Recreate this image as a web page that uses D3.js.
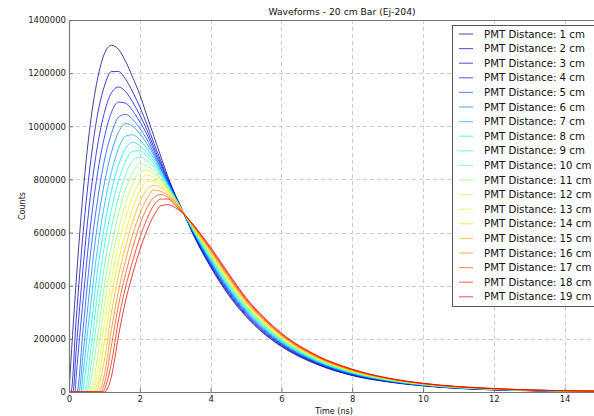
<!DOCTYPE html>
<html><head><meta charset="utf-8">
<script src="https://cdn.jsdelivr.net/npm/d3@7"></script>
<style>body{margin:0;background:#fff}svg{display:block}</style>
</head><body><svg id="c" width="594" height="416"></svg>
<script>
const chartTitle = "Waveforms - 20 cm Bar (Ej-204)";
const xLabel = "Time (ns)";
const yLabel = "Counts";
const seriesNames = Array.from({length:19},(_,i)=>"PMT Distance: "+(i+1)+" cm");
// time (ns) at which each waveform leaves zero
const onsets = [0,0.056,0.111,0.167,0.222,0.278,0.333,0.389,0.444,0.5,0.556,0.611,0.667,0.722,0.778,0.833,0.889,0.944,1.0];
// sample times (ns)
const times = [0.2,0.4,0.6,0.8,1.0,1.2,1.4,1.6,1.8,2.0,2.2,2.4,2.6,2.8,3.0,3.2,3.5,4,4.5,5,5.5,6,7,8,9,10,12,15];
// counts in thousands
const d1  = [411,753,1007,1174,1273,1305,1289,1244,1184,1119,1040,961,884,809,743,686,595,470,366,284,220,171,104,62,38,23,8,2];
const d2  = [267,601,854,1040,1151,1206,1206,1177,1129,1073,1008,936,868,801,740,686,597,474,371,288,223,174,106,63,39,24,8,2];
const d3v = [153,470,732,923,1052,1126,1148,1130,1091,1042,987,921,858,795,737,685,599,478,375,292,227,177,108,65,40,24,9,2];
const d4  = [54,349,617,818,959,1053,1091,1087,1058,1017,970,909,850,792,736,684,601,483,380,296,230,180,110,66,41,25,9,2];
const d5  = [0,239,512,716,872,973,1034,1045,1026,992,951,898,842,788,734,685,603,487,384,300,234,182,112,67,41,25,9,2];
const d6  = [0,147,407,626,786,903,978,1010,1000,972,935,889,837,786,734,684,605,491,389,304,237,185,113,69,42,26,9,2];
const d7  = [0,75,314,535,703,829,917,963,968,949,917,878,830,781,732,684,607,495,393,308,241,188,115,70,43,26,10,2];
const d8  = [0,11,218,451,623,758,855,917,940,927,901,868,823,778,731,684,609,499,398,312,244,191,117,71,44,27,10,2];
const d9  = [0,0,140,364,550,688,795,869,907,908,887,858,818,775,730,684,611,503,402,316,248,194,119,73,45,27,10,2];
const d10 = [0,0,78,283,473,620,733,818,871,884,870,846,811,771,729,684,614,508,407,320,251,197,121,74,46,28,11,3];
const d11 = [0,0,29,201,402,550,671,764,826,859,852,833,803,766,726,683,616,512,412,323,254,199,123,75,46,29,11,3];
const d12 = [0,0,0,129,328,489,611,710,785,827,835,820,797,762,725,683,618,516,416,327,258,202,125,77,47,29,11,3];
const d13 = [0,0,0,71,257,424,552,657,737,793,816,808,788,758,723,683,620,520,421,331,261,205,127,78,48,30,11,3];
const d14 = [0,0,0,34,189,363,495,603,691,755,792,794,779,753,721,682,622,524,425,335,265,208,129,79,49,30,12,3];
const d15 = [0,0,0,8,120,299,440,548,642,715,763,778,768,747,717,682,624,528,430,339,268,211,130,81,50,31,12,3];
const d16 = [0,0,0,0,65,236,382,496,593,670,727,760,755,739,713,680,626,533,434,343,272,214,132,82,51,31,12,3];
const d17 = [0,0,0,0,31,175,329,445,544,629,693,733,743,732,709,679,628,537,439,347,275,216,134,83,51,32,12,3];
const d18 = [0,0,0,0,10,111,272,396,493,581,651,703,726,726,702,677,630,541,443,351,279,219,136,85,52,32,13,3];
const d19 = [0,0,0,0,0,59,213,344,445,534,608,665,701,705,694,674,632,545,448,355,282,222,138,86,53,33,13,3];
const seriesValues = [d1,d2,d3v,d4,d5,d6,d7,d8,d9,d10,d11,d12,d13,d14,d15,d16,d17,d18,d19];
const xTicks = [0,2,4,6,8,10,12,14];
const xTickLabels = ["0","2","4","6","8","10","12","14"];
const yTicks = [0,200,400,600,800,1000,1200,1400];
const yTickLabels = ["0","200000","400000","600000","800000","1000000","1200000","1400000"];

const svg = d3.select("#c");
const L=69, R=600, T=20, B=392;
const x = d3.scaleLinear().domain([0,15]).range([L,R]);
const y = d3.scaleLinear().domain([0,1400]).range([B,T]);
const font = "DejaVu Sans, sans-serif";

function jet(v){
  const c=t=>Math.max(0,Math.min(1,t));
  return d3.rgb(255*c(1.5-Math.abs(4*v-3)),255*c(1.5-Math.abs(4*v-2)),255*c(1.5-Math.abs(4*v-1)));
}
const colors = seriesNames.map((_,i)=>jet(i/20));

svg.append("defs").append("clipPath").attr("id","pc").append("rect")
  .attr("x",L).attr("y",T).attr("width",R-L).attr("height",B-T);

// grid
const grid = svg.append("g").attr("stroke","#cccccc").attr("stroke-width",1).attr("stroke-dasharray","4,3");
grid.selectAll("line.vx").data(xTicks.filter(v=>v>0)).join("line")
  .attr("x1",d=>Math.round(x(d))+0.5).attr("x2",d=>Math.round(x(d))+0.5).attr("y1",T).attr("y2",B);
grid.selectAll("line.hy").data(yTicks.filter(v=>v>0&&v<1400)).join("line")
  .attr("y1",d=>Math.round(y(d))+0.5).attr("y2",d=>Math.round(y(d))+0.5).attr("x1",L).attr("x2",R);

// curves
const line = d3.line().x(d=>x(d[0])).y(d=>y(d[1])).curve(d3.curveMonotoneX);
const cg = svg.append("g").attr("clip-path","url(#pc)");
seriesValues.forEach((vals,i)=>{
  const pts=[];
  if (onsets[i]>0) pts.push([0,0]);
  pts.push([onsets[i],0]);
  times.forEach((t,j)=>{ if(t>onsets[i]) pts.push([t,vals[j]]); });
  cg.append("path").attr("d",line(pts)).attr("fill","none")
    .attr("stroke",colors[i]).attr("stroke-opacity",0.75).attr("stroke-width",1);
});

// axes
const xa = svg.append("g").attr("transform",`translate(0,${B})`)
  .call(d3.axisBottom(x).tickValues(xTicks).tickFormat((d,i)=>xTickLabels[i]).tickSizeInner(-4).tickSizeOuter(0).tickPadding(4));
const ya = svg.append("g").attr("transform",`translate(${L},0)`)
  .call(d3.axisLeft(y).tickValues(yTicks).tickFormat((d,i)=>yTickLabels[i]).tickSizeInner(-4).tickSizeOuter(0).tickPadding(3));
[xa,ya].forEach(a=>{
  a.select(".domain").remove();
  a.selectAll("line").attr("stroke","#777");
  a.selectAll("text").attr("font-family",font).attr("font-size","8.5px").attr("fill","#222");
});
// frame
svg.append("path").attr("d",`M${L+0.5},${T+0.5}H${R}M${L+0.5},${T+0.5}V${B+0.5}H${R}`)
  .attr("fill","none").attr("stroke","#777").attr("stroke-width",1.2);

// labels
svg.append("text").attr("x",342).attr("y",15).attr("text-anchor","middle")
  .attr("font-family",font).attr("font-size","9.2px").attr("fill","#111").text(chartTitle);
svg.append("text").attr("x",334).attr("y",414).attr("text-anchor","middle")
  .attr("font-family",font).attr("font-size","8px").attr("fill","#111").text(xLabel);
svg.append("text").attr("transform",`translate(25,206) rotate(-90)`).attr("text-anchor","middle")
  .attr("font-family",font).attr("font-size","8px").attr("fill","#111").text(yLabel);

// legend
const lg = svg.append("g");
lg.append("rect").attr("x",452.5).attr("y",25.5).attr("width",200).attr("height",281)
  .attr("fill","#fff").attr("stroke","#555").attr("stroke-width",1);
seriesNames.forEach((n,i)=>{
  const yy = 34 + i*14.6;
  lg.append("line").attr("x1",459).attr("x2",473).attr("y1",yy).attr("y2",yy)
    .attr("stroke",colors[i]).attr("stroke-opacity",0.6).attr("stroke-width",1.2);
  lg.append("text").attr("x",484).attr("y",yy).attr("dy","0.35em")
    .attr("font-family",font).attr("font-size","10.2px").attr("fill","#111").text(n);
});
</script></body></html>
